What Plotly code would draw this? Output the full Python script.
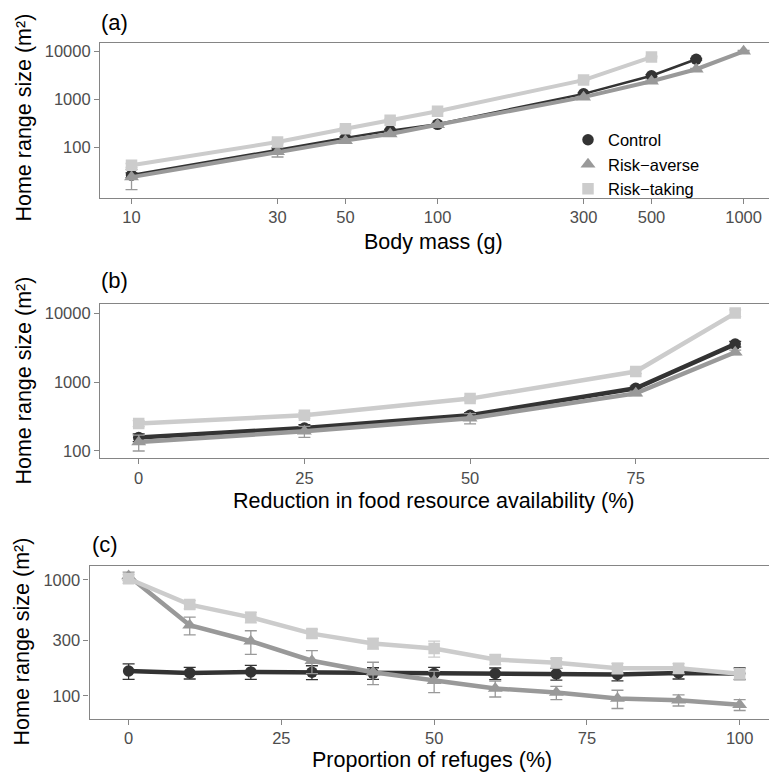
import plotly.graph_objects as go

W, H = 769, 776

# ---------------- data ----------------
series_names = ["Control", "Risk\u2212averse", "Risk\u2212taking"]
series_colors = ["#333333", "#999999", "#cccccc"]
series_symbols = ["circle", "triangle-up", "square"]

# (a) body mass
mass_control = [10, 30, 50, 70, 100, 300, 500, 700]
hr_a_control = [27, 92, 158, 226, 305, 1310, 3120, 6850]
err_a_control = [3, 6, 10, 15, 15, 60, 150, 300]
mass_averse = [10, 30, 50, 70, 100, 300, 500, 700, 1000]
hr_a_averse = [24.5, 82, 140, 192, 300, 1120, 2400, 4250, 10000]
err_a_averse = [11, 18, 12, 15, 20, 60, 120, 200, 400]
mass_taking = [10, 30, 50, 70, 100, 300, 500]
hr_a_taking = [43, 131, 248, 370, 570, 2530, 7600]
err_a_taking = [4, 10, 15, 20, 25, 100, 300]
ticks_a = [10, 30, 50, 100, 300, 500, 1000]

# (b) food reduction
food = [0, 25, 50, 75, 90]
hr_b_control = [157, 215, 330, 810, 3550]
err_b_control = [20, 25, 30, 60, 330]
hr_b_averse = [135, 193, 298, 685, 2700]
err_b_averse = [35, 35, 50, 50, 200]
hr_b_taking = [250, 330, 575, 1420, 10000]
err_b_taking = [25, 30, 40, 100, 1100]
ticks_b = [0, 25, 50, 75]

# (c) refuges
refuges = [0, 10, 20, 30, 40, 50, 60, 70, 80, 90, 100]
hr_c_control = [164, 158, 161, 160, 157, 156, 156, 155, 153, 158, 156]
err_c_control = [25, 18, 22, 22, 18, 20, 18, 18, 18, 18, 18]
hr_c_averse = [1075, 406, 296, 201, 160, 135, 116, 107, 95, 92, 84]
err_c_averse = [90, 70, 68, 45, 35, 28, 18, 14, 17, 10, 9]
hr_c_taking = [1020, 611, 475, 344, 283, 256, 206, 193, 173, 173, 155]
err_c_taking = [90, 50, 50, 30, 30, 40, 20, 18, 18, 17, 15]
ticks_c = [0, 25, 50, 75, 100]

ytick_ab = [100, 1000, 10000]
ytick_c = [100, 300, 1000]

# ---------------- figure ----------------
fig = go.Figure()

panels = [
    ("x", "y", [(mass_control, hr_a_control, err_a_control),
                (mass_averse, hr_a_averse, err_a_averse),
                (mass_taking, hr_a_taking, err_a_taking)], [2.5, 4, 4]),
    ("x2", "y2", [(food, hr_b_control, err_b_control),
                  (food, hr_b_averse, err_b_averse),
                  (food, hr_b_taking, err_b_taking)], [4.5, 4.5, 4.5]),
    ("x3", "y3", [(refuges, hr_c_control, err_c_control),
                  (refuges, hr_c_averse, err_c_averse),
                  (refuges, hr_c_taking, err_c_taking)], [4.5, 4.5, 4.5]),
]

msizes = [11.5, 13, 11.5]
for p, (xa, ya, data, lw) in enumerate(panels):
    for i, (xs, ys, es) in enumerate(data):
        fig.add_trace(go.Scatter(
            x=xs, y=ys, xaxis=xa, yaxis=ya, mode="lines",
            line=dict(color=series_colors[i], width=lw[i]),
            error_y=dict(type="data", array=es, visible=True,
                         color=series_colors[i], thickness=1.3, width=6),
            showlegend=False, hoverinfo="skip"))
        fig.add_trace(go.Scatter(
            x=xs, y=ys, xaxis=xa, yaxis=ya, mode="markers",
            marker=dict(color=series_colors[i], symbol=series_symbols[i],
                        size=msizes[i], line=dict(width=0)),
            name=series_names[i], showlegend=(p == 0)))

def px_x(v):
    return v / W

def px_y(v):
    return (H - v) / H

axis_common = dict(
    showgrid=False, zeroline=False, showline=True, linecolor="#858585",
    linewidth=1.2, ticks="outside", ticklen=5, tickwidth=1, tickcolor="#858585",
    tickfont=dict(family="Liberation Sans, Arial, sans-serif", size=16.5, color="#4d4d4d"),
)

fig.update_layout(
    width=W, height=H,
    margin=dict(l=0, r=0, t=0, b=0),
    paper_bgcolor="white", plot_bgcolor="white",
    font=dict(family="Liberation Sans, Arial, sans-serif", color="black"),
    xaxis=dict(axis_common, type="log", domain=[px_x(100), 1.0], range=[0.897, 3.083],
               tickvals=ticks_a, ticktext=[str(t) for t in ticks_a], mirror=True, anchor="y"),
    yaxis=dict(axis_common, type="log", domain=[px_y(197.3), px_y(42.5)], range=[0.965, 4.166],
               tickvals=ytick_ab, ticktext=[str(t) for t in ytick_ab], anchor="x"),
    xaxis2=dict(axis_common, domain=[px_x(100), 1.0], range=[-5.84, 95.1],
                tickvals=ticks_b, ticktext=[str(t) for t in ticks_b], mirror=True, anchor="y2"),
    yaxis2=dict(axis_common, type="log", domain=[px_y(459), px_y(304.3)], range=[1.895, 4.13],
                tickvals=ytick_ab, ticktext=[str(t) for t in ytick_ab], anchor="x2"),
    xaxis3=dict(axis_common, domain=[px_x(89.5), 1.0], range=[-6.4, 104.8],
                tickvals=ticks_c, ticktext=[str(t) for t in ticks_c], mirror=True, anchor="y3"),
    yaxis3=dict(axis_common, type="log", domain=[px_y(720.3), px_y(567)], range=[1.806, 3.12],
                tickvals=ytick_c, ticktext=[str(t) for t in ytick_c], anchor="x3"),
    legend=dict(x=px_x(568), y=px_y(122), xanchor="left", yanchor="top",
                bgcolor="rgba(0,0,0,0)", font=dict(size=16.5, color="black"),
                itemwidth=30, tracegroupgap=0),
    showlegend=True,
)

ann = []
title_font = dict(family="Liberation Sans, Arial, sans-serif", size=21.5, color="black")
label_font = dict(family="Liberation Sans, Arial, sans-serif", size=22, color="black")
for lab, cx, cy in [("(a)", 114, 22), ("(b)", 114, 281), ("(c)", 105, 546)]:
    ann.append(dict(text=lab, x=px_x(cx), y=px_y(cy), xref="paper", yref="paper",
                    showarrow=False, xanchor="center", yanchor="middle", font=label_font))
for txt, cx, cy in [("Body mass (g)", 434, 242),
                    ("Reduction in food resource availability (%)", 434, 502),
                    ("Proportion of refuges (%)", 432, 762)]:
    ann.append(dict(text=txt, x=px_x(cx), y=px_y(cy), xref="paper", yref="paper",
                    showarrow=False, xanchor="center", yanchor="middle", font=title_font))
for cx, cy in [(24, 117), (24, 381), (22, 643)]:
    ann.append(dict(text="Home range size (m\u00b2)", x=px_x(cx), y=px_y(cy), xref="paper",
                    yref="paper", showarrow=False, xanchor="center", yanchor="middle",
                    textangle=-90, font=title_font))
fig.update_layout(annotations=ann)

fig.write_html("out.html",
               config={"displayModeBar": False},
               post_script="document.body.style.margin='0px';"
                           "document.body.style.overflow='hidden';")
